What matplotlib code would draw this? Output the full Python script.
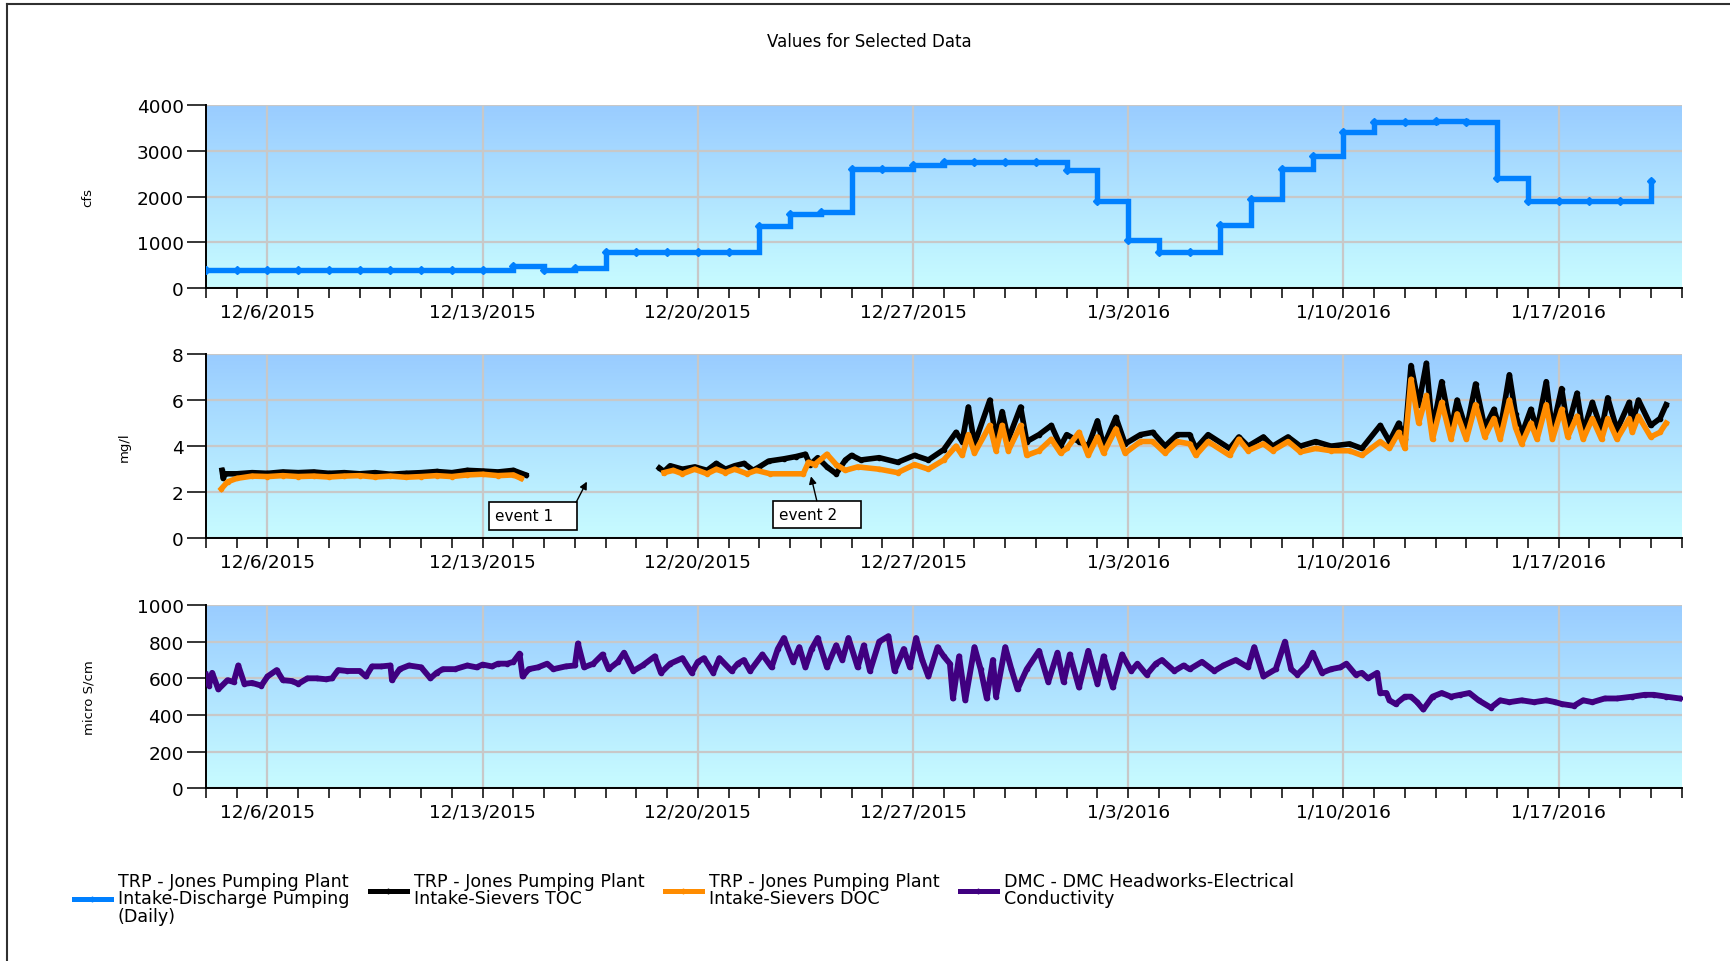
"""
Values for Selected Data - three stacked time series panels
"""
import numpy as np
import matplotlib
matplotlib.use('Agg')
import matplotlib.pyplot as plt
from matplotlib.colors import LinearSegmentedColormap
from matplotlib.lines import Line2D
from matplotlib.patches import Rectangle
import matplotlib.dates as mdates

# ---- data (time in days since 12/4/2015 00:00) ----
START = np.datetime64('2015-12-04T00:00')
N_DAYS = 48

# daily pumping (cfs), one value per day
pump_days = np.arange(48)
pump_cfs = [400, 400, 400, 400, 400, 400, 400, 400, 400, 400,
            490, 400, 440, 785, 785, 785, 785, 785, 1370, 1620,
            1660, 2600, 2600, 2700, 2750, 2750, 2750, 2750, 2580, 1900,
            1050, 800, 800, 1380, 1950, 2600, 2880, 3420, 3620, 3620,
            3650, 3620, 2400, 1900, 1900, 1900, 1900, 2350]

# TOC / DOC (mg/l), first block
toc1_t = [0.52, 0.56, 0.62, 1.0, 1.5, 2.0, 2.5, 3.0, 3.5, 4.0, 4.5, 5.0, 5.5,
          6.0, 6.5, 7.0, 7.5, 8.0, 8.5, 9.0, 9.5, 10.0, 10.4]
toc1_v = [2.95, 2.6, 2.8, 2.8, 2.85, 2.82, 2.88, 2.85, 2.88, 2.82, 2.85, 2.8, 2.85,
          2.78, 2.82, 2.85, 2.9, 2.85, 2.95, 2.92, 2.88, 2.95, 2.75]
doc1_t = [0.5, 0.7, 1.0, 1.5, 2.0, 2.5, 3.0, 3.5, 4.0, 4.5, 5.0, 5.5, 6.0,
          6.5, 7.0, 7.5, 8.0, 8.5, 9.0, 9.5, 10.0, 10.25]
doc1_v = [2.15, 2.45, 2.6, 2.7, 2.68, 2.72, 2.68, 2.7, 2.66, 2.7, 2.72, 2.66, 2.7,
          2.65, 2.68, 2.72, 2.68, 2.75, 2.78, 2.72, 2.75, 2.6]

# second block
toc2_t = [14.75, 14.9, 15.1, 15.5, 15.9, 16.3, 16.6, 16.9, 17.2, 17.5, 17.8, 18.0,
          18.3, 18.8, 19.2, 19.5, 19.65, 19.9, 20.2, 20.5, 20.8, 21.0, 21.3,
          21.9, 22.5, 23.05, 23.5, 24.0, 24.4, 24.6, 24.8, 25.0, 25.5, 25.7,
          25.9, 26.1, 26.5, 26.7, 27.1, 27.5, 27.8, 28.0, 28.4, 28.7, 29.0,
          29.2, 29.6, 29.9, 30.4, 30.8, 31.2, 31.6, 32.0, 32.2, 32.6, 33.3,
          33.6, 33.9, 34.4, 34.7, 35.2, 35.6, 36.1, 36.6, 37.2, 37.6, 38.2,
          38.5, 38.8, 39.0, 39.2, 39.45, 39.7, 39.9, 40.2, 40.5, 40.7, 41.0,
          41.3, 41.6, 41.9, 42.1, 42.4, 42.6, 42.8, 43.1, 43.3, 43.6, 43.8,
          44.1, 44.3, 44.6, 44.8, 45.1, 45.4, 45.6, 45.9, 46.3, 46.4, 46.6,
          47.0, 47.3, 47.5]
toc2_v = [3.05, 2.9, 3.15, 3.0, 3.1, 2.95, 3.25, 3.0, 3.15, 3.25, 2.95, 3.1,
          3.35, 3.45, 3.55, 3.65, 3.2, 3.5, 3.1, 2.8, 3.4, 3.6, 3.4,
          3.5, 3.3, 3.6, 3.4, 3.85, 4.6, 4.2, 5.7, 4.1, 6.0, 4.3,
          5.5, 4.3, 5.7, 4.2, 4.5, 4.9, 4.0, 4.5, 4.2, 4.0, 5.1,
          4.0, 5.25, 4.1, 4.5, 4.6, 4.0, 4.5, 4.5, 3.9, 4.5, 3.9,
          4.4, 4.0, 4.4, 4.0, 4.4, 4.0, 4.2, 4.0, 4.1, 3.9, 4.9,
          4.2, 5.0, 4.3, 7.5, 5.8, 7.6, 4.7, 6.8, 4.7, 6.0, 4.7,
          6.7, 4.8, 5.6, 4.7, 7.1, 5.4, 4.5, 5.6, 4.7, 6.8, 4.7,
          6.5, 4.8, 6.3, 4.6, 5.9, 4.7, 6.1, 4.7, 5.9, 5.0, 6.0,
          4.9, 5.2, 5.8]
doc2_t = [14.9, 15.2, 15.5, 15.9, 16.3, 16.6, 16.9, 17.2, 17.6, 17.9, 18.35,
          19.43, 19.6, 19.8, 20.2, 20.5, 20.8, 21.2,
          21.9, 22.5, 23.05, 23.5, 24.0, 24.4, 24.6, 24.8, 25.0, 25.5, 25.7,
          25.9, 26.1, 26.5, 26.7, 27.1, 27.5, 27.8, 28.0, 28.4, 28.7, 29.0,
          29.2, 29.6, 29.9, 30.4, 30.8, 31.2, 31.6, 32.0, 32.2, 32.6, 33.3,
          33.6, 33.9, 34.4, 34.7, 35.2, 35.6, 36.1, 36.6, 37.2, 37.6, 38.2,
          38.5, 38.8, 39.0, 39.2, 39.45, 39.7, 39.9, 40.2, 40.5, 40.7, 41.0,
          41.3, 41.6, 41.9, 42.1, 42.4, 42.6, 42.8, 43.1, 43.3, 43.6, 43.8,
          44.1, 44.3, 44.6, 44.8, 45.1, 45.4, 45.6, 45.9, 46.3, 46.4, 46.6,
          47.0, 47.3, 47.5]
doc2_v = [2.85, 2.95, 2.8, 3.0, 2.8, 3.0, 2.85, 3.0, 2.8, 2.95, 2.8,
          2.8, 3.3, 3.2, 3.65, 3.2, 2.95, 3.1,
          3.0, 2.85, 3.2, 3.0, 3.4, 4.0, 3.6, 4.5, 3.7, 4.9, 3.8,
          4.9, 3.8, 4.9, 3.6, 3.8, 4.3, 3.7, 3.9, 4.6, 3.6, 4.4,
          3.7, 4.75, 3.7, 4.2, 4.2, 3.7, 4.2, 4.1, 3.6, 4.2, 3.6,
          4.3, 3.8, 4.1, 3.8, 4.2, 3.75, 3.9, 3.8, 3.8, 3.6, 4.2,
          3.9, 4.6, 3.9, 6.9, 5.0, 6.2, 4.3, 5.9, 4.3, 5.4, 4.3,
          5.8, 4.4, 5.2, 4.3, 6.0, 4.8, 4.1, 5.0, 4.3, 5.8, 4.3,
          5.6, 4.4, 5.3, 4.3, 5.2, 4.3, 5.2, 4.3, 5.2, 4.6, 5.3,
          4.4, 4.6, 5.0]

# electrical conductivity (micro S/cm)
ec_t = [0.0, 0.1, 0.2, 0.4, 0.7, 0.9, 1.05, 1.25, 1.5, 1.8, 2.0, 2.3, 2.5, 2.8,
        3.0, 3.3, 3.6, 3.9, 4.1, 4.3, 4.6, 5.0, 5.2, 5.4, 5.7, 6.0, 6.05, 6.3,
        6.6, 7.0, 7.3, 7.5, 7.7, 8.1, 8.5, 8.8, 9.0, 9.3, 9.5, 9.8, 10.0, 10.2,
        10.3, 10.5, 10.8, 11.1, 11.3, 11.7, 12.0, 12.1, 12.3, 12.6, 12.9, 13.1,
        13.4, 13.6, 13.9, 14.2, 14.6, 14.8, 15.1, 15.5, 15.8, 16.0, 16.2, 16.5,
        16.7, 17.1, 17.3, 17.5, 17.7, 18.1, 18.4, 18.6, 18.8, 19.1, 19.3, 19.5,
        19.7, 19.9, 20.2, 20.5, 20.7, 20.9, 21.2, 21.4, 21.6, 21.9, 22.2, 22.4,
        22.7, 22.9, 23.1, 23.3, 23.5, 23.8, 24.0, 24.2, 24.3, 24.5, 24.7, 25.0,
        25.2, 25.4, 25.6, 25.7, 26.0, 26.2, 26.4, 26.7, 27.1, 27.4, 27.7, 27.9,
        28.1, 28.4, 28.7, 29.0, 29.2, 29.5, 29.8, 30.1, 30.3, 30.6, 30.9, 31.1,
        31.5, 31.8, 32.0, 32.4, 32.8, 33.1, 33.5, 33.9, 34.1, 34.4, 34.8, 35.1,
        35.3, 35.5, 35.8, 36.0, 36.3, 36.6, 36.9, 37.1, 37.4, 37.6, 37.8, 38.1,
        38.2, 38.4, 38.5, 38.7, 39.0, 39.2, 39.4, 39.6, 39.9, 40.2, 40.5, 40.8,
        41.1, 41.4, 41.8, 42.1, 42.4, 42.8, 43.2, 43.6, 43.9, 44.1, 44.5, 44.8,
        45.1, 45.5, 45.9, 46.4, 46.8, 47.1, 47.5, 47.95]
ec_v = [620, 560, 630, 540, 590, 580, 670, 570, 575, 560, 610, 645, 590, 585,
        570, 600, 600, 595, 600, 645, 640, 640, 610, 665, 665, 670, 590, 650,
        670, 660, 600, 630, 650, 650, 670, 660, 675, 665, 680, 680, 690, 735,
        610, 650, 660, 680, 650, 665, 670, 790, 660, 680, 730, 650,
        690, 740, 640, 670, 720, 630, 680, 710, 630, 690, 710, 630,
        710, 640, 680, 700, 640, 730, 660, 760, 820, 690, 770, 660,
        760, 820, 660, 780, 700, 820, 660, 780, 640, 800, 830, 640,
        760, 660, 820, 700, 610, 770, 720, 680, 490, 720, 480, 770,
        650, 490, 700, 500, 770, 650, 540, 650, 750, 580, 740, 580,
        730, 550, 750, 570, 720, 550, 730, 640, 680, 620, 680, 700,
        640, 670, 650, 690, 640, 670, 700, 660, 770, 610, 650, 800,
        650, 620, 670, 740, 630, 650, 660, 680, 620, 630, 600, 630,
        520, 520, 480, 460, 500, 500, 470, 430, 500, 520, 500, 510,
        520, 480, 440, 480, 470, 480, 470, 480, 470, 460, 450, 480,
        470, 490, 490, 500, 510, 510, 500, 490]

# axes text
tick_days = [2, 9, 16, 23, 30, 37, 44]
tick_labels = ['12/6/2015', '12/13/2015', '12/20/2015', '12/27/2015',
               '1/3/2016', '1/10/2016', '1/17/2016']
y_ticks = [[0, 1000, 2000, 3000, 4000], [0, 2, 4, 6, 8],
           [0, 200, 400, 600, 800, 1000]]
y_labels = ['cfs', 'mg/l', 'micro S/cm']
legend_labels = ['TRP - Jones Pumping Plant\nIntake-Discharge Pumping\n(Daily)',
                 'TRP - Jones Pumping Plant\nIntake-Sievers TOC',
                 'TRP - Jones Pumping Plant\nIntake-Sievers DOC',
                 'DMC - DMC Headworks-Electrical\nConductivity']

C_BLUE = '#0080FF'
C_TOC = '#000000'
C_DOC = '#FF8C00'
C_EC = '#400080'


def to_dates(days):
    """days since START -> datetime64"""
    return START + (np.asarray(days, dtype=float) * 24 * 60).round().astype('timedelta64[m]')


W, H = 1730, 962
fig = plt.figure(figsize=(W / 100, H / 100), dpi=100)
fig.patch.set_facecolor('white')

bg_cmap = LinearSegmentedColormap.from_list('bg', ['#C8FCFF', '#99CCFF'])
grad = np.linspace(0, 1, 256).reshape(-1, 1)

left = 206 / W
width = (1681.5 - 206) / W
panel_px = [(106, 289.3), (355, 539.3), (606, 789.3)]
label_x = [-0.076, -0.051, -0.075]
axes = []
for i, (top, bot) in enumerate(panel_px):
    ax = fig.add_axes([left, 1 - bot / H, width, (bot - top) / H])
    axes.append(ax)

# data lines
ax1, ax2, ax3 = axes
ax1.step(to_dates(pump_days), pump_cfs, where='post', color=C_BLUE, lw=3.9,
         marker='D', ms=3.8, solid_joinstyle='miter', zorder=3)

ax2.plot(to_dates(toc1_t), toc1_v, color=C_TOC, lw=4.0, marker='o', ms=3, zorder=3)
ax2.plot(to_dates(toc2_t), toc2_v, color=C_TOC, lw=4.0, marker='o', ms=3, zorder=3)
ax2.plot(to_dates(doc1_t), doc1_v, color=C_DOC, lw=4.0, marker='o', ms=3, zorder=4)
ax2.plot(to_dates(doc2_t), doc2_v, color=C_DOC, lw=4.0, marker='o', ms=3, zorder=4)

ax3.plot(to_dates(ec_t), ec_v, color=C_EC, lw=4.2, marker='o', ms=3, zorder=3)

# event annotations on the mg/l panel
for (bx, by, tx, ty, ax0, ay0, ax_, ay_, txt) in [
        (9.21, 0.36, 9.40, 0.97, 12.04, 1.56, 12.39, 2.46, 'event 1'),
        (18.44, 0.43, 18.64, 1.03, 19.87, 1.63, 19.68, 2.69, 'event 2')]:
    x0 = mdates.date2num(to_dates([bx]))[0]
    ax2.add_patch(Rectangle((x0, by), 2.86, 1.2, facecolor='white',
                            edgecolor='black', lw=1.2, zorder=5))
    ax2.text(to_dates([tx])[0], ty, txt, ha='left', va='center', fontsize=11, zorder=6)
    ax2.annotate('', xy=(to_dates([ax_])[0], ay_), xytext=(to_dates([ax0])[0], ay0),
                 arrowprops=dict(arrowstyle='-|>', color='black', lw=1.0,
                                 mutation_scale=11, shrinkA=0, shrinkB=0),
                 zorder=6)

xmin, xmax = to_dates([0])[0], to_dates([N_DAYS])[0]
for i, ax in enumerate(axes):
    ax.imshow(grad, extent=(0, 1, 0, 1), transform=ax.transAxes, aspect='auto',
              origin='lower', cmap=bg_cmap, zorder=0, interpolation='bilinear')
    ax.set_xlim(xmin, xmax)
    ax.set_ylim(y_ticks[i][0], y_ticks[i][-1])
    ax.set_yticks(y_ticks[i])
    ax.set_yticklabels([str(v) for v in y_ticks[i]])
    ax.set_xticks(to_dates(tick_days))
    ax.set_xticklabels(tick_labels)
    ax.set_xticks(to_dates(np.arange(N_DAYS + 1)), minor=True)
    ax.set_axisbelow(True)
    ax.grid(True, which='major', color='#C8C8C8', lw=1.6)
    for s in ['top', 'right']:
        ax.spines[s].set_visible(False)
    for s in ['left', 'bottom']:
        ax.spines[s].set_linewidth(1.4)
        ax.spines[s].set_color('black')
    ax.tick_params(axis='x', which='both', direction='out', length=7.5, width=1.1,
                   labelsize=13.3, pad=3)
    ax.tick_params(axis='y', which='major', direction='out', length=14, width=1.1,
                   labelsize=13.3, pad=2)
    ax.set_ylabel(y_labels[i], fontsize=9.5)
    ax.yaxis.set_label_coords(label_x[i], 0.5)

fig.text(869 / W, 1 - 42 / H, 'Values for Selected Data', ha='center', va='center',
         fontsize=12)

# legend, one block per series so the texts share a top edge
leg_colors = [C_BLUE, C_TOC, C_DOC, C_EC]
leg_x = [74, 370, 665, 960]
for c, lab, lx in zip(leg_colors, legend_labels, leg_x):
    h = Line2D([], [], color=c, lw=3.6, marker='D', ms=2.5)
    leg = fig.legend([h], [lab], loc='upper left', bbox_to_anchor=(lx / W, 1 - 873 / H),
                     frameon=False, fontsize=12.6, handlelength=2.1, handletextpad=0.4,
                     borderpad=0, borderaxespad=0)
    for t in leg.get_texts():
        t.set_linespacing(0.95)

# outer frame (left and top edges visible)
fig.add_artist(Line2D([7 / W, 7 / W], [0, 1 - 4.7 / H], color='#303030', lw=1.5,
                      transform=fig.transFigure))
fig.add_artist(Line2D([7 / W, 1], [1 - 4.7 / H, 1 - 4.7 / H], color='#303030', lw=1.5,
                      transform=fig.transFigure))

fig.savefig('out.png', dpi=100)
plt.close(fig)
